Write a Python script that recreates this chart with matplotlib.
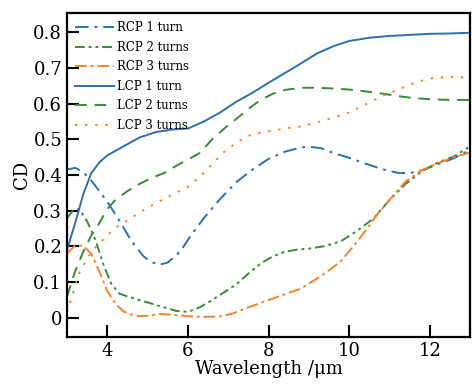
import numpy as np
import matplotlib.pyplot as plt

plt.rcParams['font.family'] = ['DejaVu Serif']
plt.rcParams['mathtext.fontset'] = 'dejavuserif'

# RCP 1 turn
x_rcp1 = [3.0, 3.2, 3.4, 3.6, 3.8, 4.0, 4.3, 4.6, 4.9, 5.1, 5.3, 5.5, 5.8, 6.1, 6.4, 6.8,
          7.2, 7.6, 8.0, 8.4, 8.8, 9.0, 9.3, 9.6, 10.0, 10.4, 10.8, 11.2, 11.5, 11.8, 12.2, 12.6, 13.0]
y_rcp1 = [0.415, 0.42, 0.408, 0.385, 0.355, 0.325, 0.272, 0.215, 0.172, 0.156, 0.149, 0.155, 0.185, 0.235, 0.28, 0.333,
          0.38, 0.415, 0.445, 0.465, 0.477, 0.479, 0.475, 0.462, 0.448, 0.432, 0.417, 0.406, 0.405, 0.413, 0.43, 0.447, 0.47]

# RCP 2 turns
x_rcp2 = [3.0, 3.15, 3.3, 3.5, 3.7, 3.9, 4.1, 4.3, 4.5, 4.8, 5.1, 5.4, 5.7, 6.0, 6.3, 6.6, 6.9,
          7.2, 7.5, 7.8, 8.1, 8.4, 8.7, 9.0, 9.4, 9.8, 10.2, 10.6, 11.0, 11.4, 11.8, 12.2, 12.6, 13.0]
y_rcp2 = [0.28, 0.30, 0.305, 0.27, 0.22, 0.15, 0.095, 0.068, 0.06, 0.05, 0.04, 0.03, 0.02, 0.017, 0.03, 0.05, 0.072,
          0.094, 0.124, 0.152, 0.172, 0.185, 0.191, 0.194, 0.201, 0.215, 0.244, 0.278, 0.33, 0.375, 0.41, 0.435, 0.452, 0.48]

# RCP 3 turns
x_rcp3 = [3.0, 3.2, 3.4, 3.6, 3.8, 4.0, 4.2, 4.4, 4.6, 4.8, 5.0, 5.3, 5.6, 6.0, 6.4, 6.8, 7.1,
          7.4, 7.7, 8.0, 8.4, 8.8, 9.2, 9.5, 9.8, 10.1, 10.4, 10.7, 11.0, 11.4, 11.8, 12.2, 12.6, 13.0]
y_rcp3 = [0.18, 0.203, 0.202, 0.18, 0.13, 0.075, 0.04, 0.018, 0.009, 0.005, 0.006, 0.011, 0.009, 0.005, 0.003, 0.004, 0.012,
          0.025, 0.038, 0.05, 0.066, 0.082, 0.11, 0.133, 0.16, 0.2, 0.243, 0.29, 0.33, 0.382, 0.413, 0.433, 0.45, 0.463]

# LCP 1 turn
x_lcp1 = [3.0, 3.2, 3.4, 3.6, 3.8, 4.0, 4.4, 4.8, 5.2, 5.6, 6.0, 6.4, 6.8, 7.2, 7.6, 8.0,
          8.4, 8.8, 9.2, 9.6, 10.0, 10.5, 11.0, 11.5, 12.0, 12.5, 13.0]
y_lcp1 = [0.19, 0.265, 0.345, 0.405, 0.435, 0.455, 0.48, 0.505, 0.52, 0.527, 0.53, 0.55, 0.575, 0.605, 0.63, 0.658,
          0.685, 0.712, 0.74, 0.76, 0.775, 0.784, 0.789, 0.792, 0.795, 0.796, 0.798]

# LCP 2 turns
x_lcp2 = [3.0, 3.2, 3.4, 3.6, 3.8, 4.0, 4.2, 4.5, 4.8, 5.1, 5.4, 5.7, 6.0, 6.3, 6.6, 6.9,
          7.2, 7.5, 7.8, 8.1, 8.4, 8.8, 9.2, 9.6, 10.0, 10.4, 10.8, 11.2, 11.6, 12.0, 12.5, 13.0]
y_lcp2 = [0.06, 0.13, 0.185, 0.23, 0.265, 0.305, 0.33, 0.355, 0.375, 0.392, 0.405, 0.425, 0.443, 0.462, 0.50, 0.53,
          0.557, 0.585, 0.61, 0.627, 0.638, 0.644, 0.644, 0.642, 0.639, 0.634, 0.628, 0.621, 0.615, 0.612, 0.61, 0.61]

# LCP 3 turns
x_lcp3 = [3.0, 3.3, 3.6, 3.9, 4.2, 4.5, 4.8, 5.1, 5.4, 5.7, 6.0, 6.3, 6.6, 6.9, 7.2, 7.5,
          7.8, 8.1, 8.4, 8.8, 9.2, 9.6, 10.0, 10.4, 10.8, 11.2, 11.6, 12.0, 12.5, 13.0]
y_lcp3 = [0.015, 0.125, 0.185, 0.22, 0.252, 0.273, 0.295, 0.315, 0.333, 0.35, 0.367, 0.395, 0.43, 0.465, 0.49, 0.51,
          0.518, 0.524, 0.53, 0.536, 0.547, 0.56, 0.575, 0.597, 0.62, 0.638, 0.657, 0.67, 0.675, 0.672]

blue = '#2f6db5'
green = '#3a8a3a'
orange = '#f7812f'

fig = plt.figure(figsize=(4.72, 3.85), dpi=100)
ax = fig.add_axes([0.142, 0.125, 0.854, 0.841])

ax.plot(x_rcp1, y_rcp1, color=blue, lw=1.4, ls=(0, (7, 3, 1.5, 3)), label='RCP 1 turn')
ax.plot(x_rcp2, y_rcp2, color=green, lw=1.4, ls=(0, (5, 2, 1.5, 2, 1.5, 2)), label='RCP 2 turns')
ax.plot(x_rcp3, y_rcp3, color=orange, lw=1.4, ls=(0, (6, 2, 1.5, 2)), label='RCP 3 turns')
ax.plot(x_lcp1, y_lcp1, color=blue, lw=1.4, ls='-', label='LCP 1 turn')
ax.plot(x_lcp2, y_lcp2, color=green, lw=1.4, ls=(0, (6, 4)), label='LCP 2 turns')
ax.plot(x_lcp3, y_lcp3, color=orange, lw=1.4, ls=(0, (1.2, 4)), label='LCP 3 turns')

ax.set_xlim(3, 13)
ax.set_ylim(-0.053, 0.853)
ax.set_xticks([4, 6, 8, 10, 12])
ax.set_yticks(np.arange(0, 0.81, 0.1))
ax.set_yticklabels(['0', '0.1', '0.2', '0.3', '0.4', '0.5', '0.6', '0.7', '0.8'])
ax.tick_params(direction='in', length=8.5, width=1.5, labelsize=13)
for s in ax.spines.values():
    s.set_linewidth(1.6)

ax.set_xlabel('Wavelength /μm', fontsize=13, labelpad=0)
ax.set_ylabel('CD', fontsize=13, labelpad=2)

ax.legend(loc='upper left', frameon=False, fontsize=8.5, handlelength=3.3,
          labelspacing=0.55, handletextpad=0.2, borderaxespad=0.3)

fig.savefig('out.png', dpi=100)
